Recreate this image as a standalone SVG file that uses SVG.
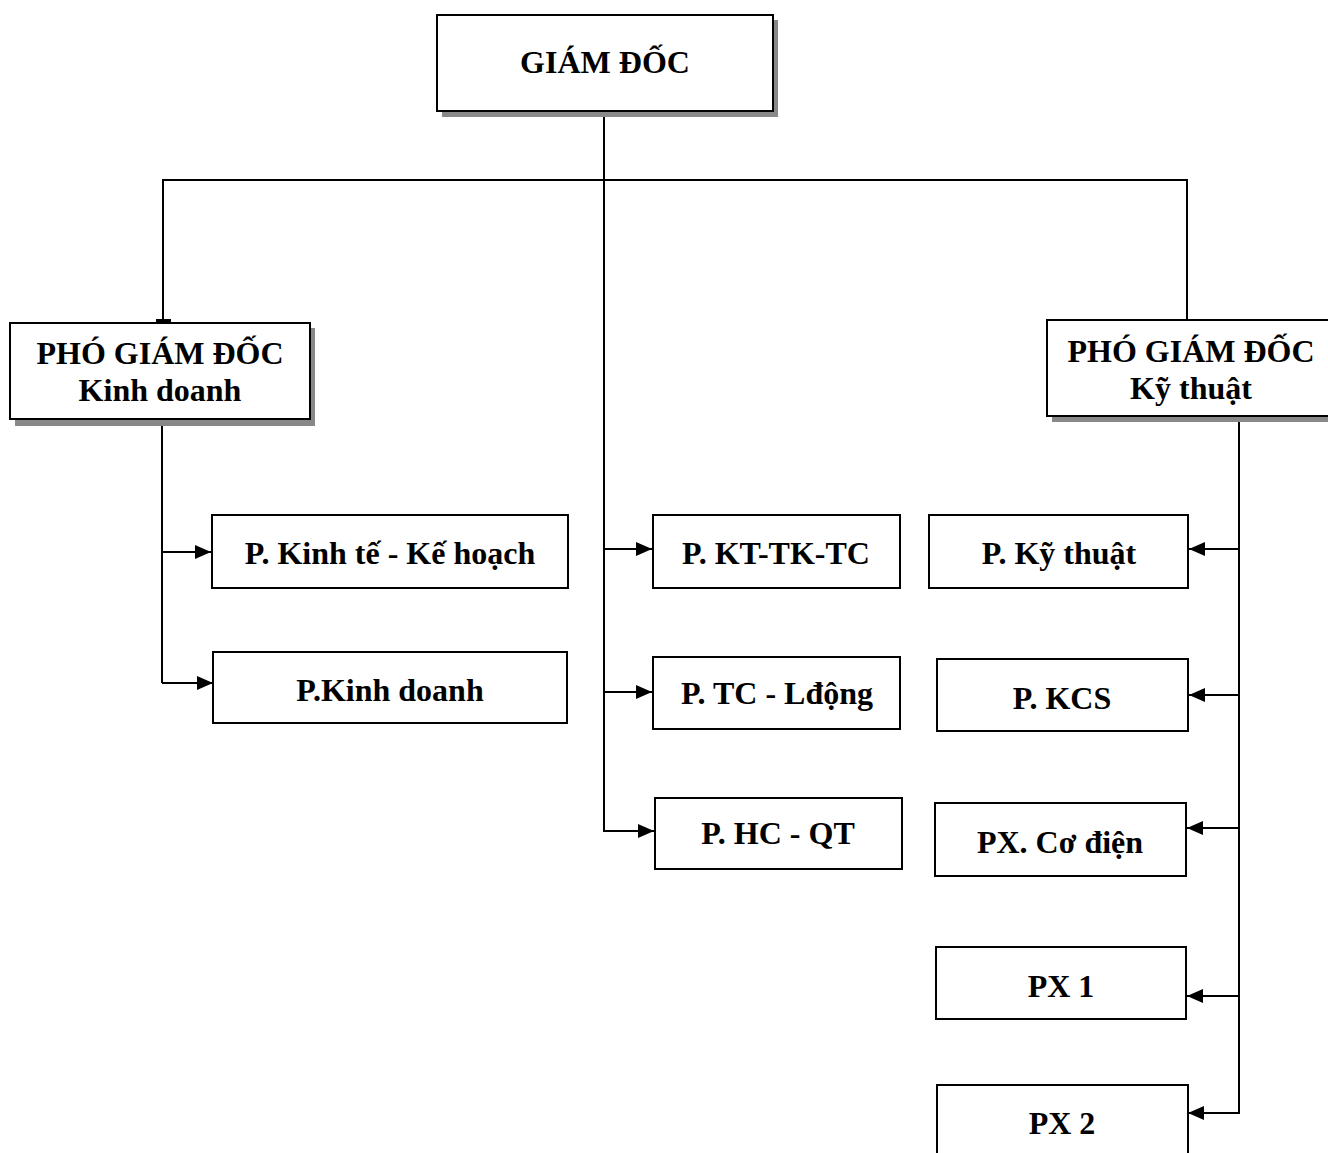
<svg xmlns="http://www.w3.org/2000/svg" width="1328" height="1153" viewBox="0 0 1328 1153">
<style>
.box{fill:#fff;stroke:#000;stroke-width:2}
.sh{fill:#888}
.ln{fill:none;stroke:#000;stroke-width:2}
text{font-family:"Liberation Serif","Times New Roman",serif;font-weight:bold;font-size:32px;text-anchor:middle;fill:#000}
</style>
<defs>
<marker id="ar" markerUnits="userSpaceOnUse" markerWidth="17" markerHeight="14" refX="16" refY="7" orient="auto">
<path d="M0,0 L16,7 L0,14 Z" fill="#000"/>
</marker>
</defs>
<rect width="1328" height="1153" fill="#fff"/>
<g id="connectors">
<path class="ln" d="M604,112 V832"/>
<path class="ln" d="M163,320 V180 H1187 V320"/>
<rect x="156" y="319" width="15" height="4" fill="#000"/>
<path class="ln" d="M162,418 V683"/>
<path class="ln" d="M162,552 H211" marker-end="url(#ar)"/>
<path class="ln" d="M162,683 H213" marker-end="url(#ar)"/>
<path class="ln" d="M603,549 H652" marker-end="url(#ar)"/>
<path class="ln" d="M604,692 H652" marker-end="url(#ar)"/>
<path class="ln" d="M604,831 H654" marker-end="url(#ar)"/>
<path class="ln" d="M1239,422 V1114"/>
<path class="ln" d="M1239,549 H1189" marker-end="url(#ar)"/>
<path class="ln" d="M1238,695 H1189" marker-end="url(#ar)"/>
<path class="ln" d="M1238,828 H1187" marker-end="url(#ar)"/>
<path class="ln" d="M1238,996 H1187" marker-end="url(#ar)"/>
<path class="ln" d="M1239,1113 H1188" marker-end="url(#ar)"/>
</g>
<g id="giam-doc">
<rect class="sh" x="442" y="20" width="336" height="97"/>
<rect class="box" x="437" y="15" width="336" height="96"/>
<text x="605" y="73">GIÁM ĐỐC</text>
</g>
<g id="pgd-kinh-doanh">
<rect class="sh" x="15" y="328" width="300" height="98"/>
<rect class="box" x="10" y="323" width="300" height="96"/>
<text x="160" y="364">PHÓ GIÁM ĐỐC</text>
<text x="160" y="401">Kinh doanh</text>
</g>
<g id="pgd-ky-thuat">
<rect class="sh" x="1052" y="325" width="290" height="97"/>
<rect class="box" x="1047" y="320" width="290" height="96"/>
<text x="1191" y="362">PHÓ GIÁM ĐỐC</text>
<text x="1191" y="399">Kỹ thuật</text>
</g>
<g id="p-kinh-te-ke-hoach">
<rect class="box" x="212" y="515" width="356" height="73"/>
<text x="390" y="564">P. Kinh tế - Kế hoạch</text>
</g>
<g id="p-kinh-doanh">
<rect class="box" x="213" y="652" width="354" height="71"/>
<text x="390" y="701">P.Kinh doanh</text>
</g>
<g id="p-kt-tk-tc">
<rect class="box" x="653" y="515" width="247" height="73"/>
<text x="776" y="564">P. KT-TK-TC</text>
</g>
<g id="p-tc-ldong">
<rect class="box" x="653" y="657" width="247" height="72"/>
<text x="777" y="704">P. TC - Lđộng</text>
</g>
<g id="p-hc-qt">
<rect class="box" x="655" y="798" width="247" height="71"/>
<text x="778" y="844">P. HC - QT</text>
</g>
<g id="p-ky-thuat">
<rect class="box" x="929" y="515" width="259" height="73"/>
<text x="1059" y="564">P. Kỹ thuật</text>
</g>
<g id="p-kcs">
<rect class="box" x="937" y="659" width="251" height="72"/>
<text x="1062" y="709">P. KCS</text>
</g>
<g id="px-co-dien">
<rect class="box" x="935" y="803" width="251" height="73"/>
<text x="1060" y="853">PX. Cơ điện</text>
</g>
<g id="px-1">
<rect class="box" x="936" y="947" width="250" height="72"/>
<text x="1061" y="997">PX 1</text>
</g>
<g id="px-2">
<rect class="box" x="937" y="1085" width="251" height="80"/>
<text x="1062" y="1134">PX 2</text>
</g>
</svg>
